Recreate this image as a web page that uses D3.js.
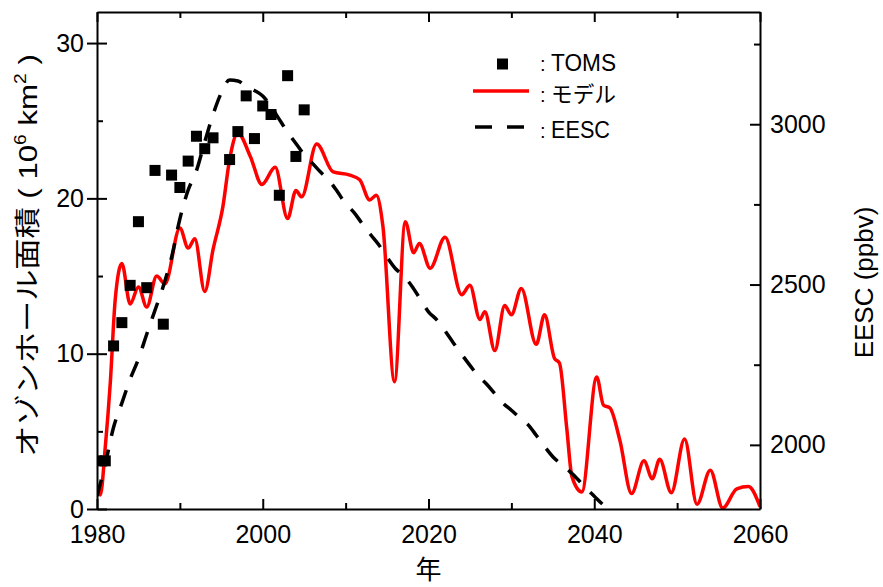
<!DOCTYPE html>
<html>
<head>
<meta charset="utf-8">
<script src="https://cdn.jsdelivr.net/npm/d3@7"></script>
<style>
  body { margin: 0; background: #fff; }
  text { font-family: "Liberation Sans", Arial, sans-serif; }
  .jp { font-family: "Noto Sans CJK JP", sans-serif; }
</style>
</head>
<body>
<div class="chart"></div>
<script>
// TOMS observed ozone hole area (10^6 km2)
const tomsYears = [1980, 1981, 1982, 1983, 1984, 1985, 1986, 1987, 1988, 1989, 1990, 1991, 1992, 1993, 1994,
  1996, 1997, 1998, 1999, 2000, 2001, 2002, 2003, 2004, 2005];
const tomsArea = [3.1, 3.1, 10.5, 12.0, 14.4, 18.5, 14.25, 21.8, 11.9, 21.5, 20.7, 22.4, 24.0, 23.2, 23.9,
  22.5, 24.3, 26.6, 23.85, 25.95, 25.4, 20.2, 27.9, 22.7, 25.7];

// model (red line), read at turning points
const modelYears = [1980, 1980.4, 1981, 1981.6, 1982.2, 1983, 1984, 1985, 1986, 1987.2, 1988.2, 1990, 1991, 1991.8,
  1993, 1994, 1995.2, 1996, 1997, 1998.5, 1999.9, 2001.5, 2003, 2004, 2004.7, 2006.5, 2008.5, 2010.5, 2011.7,
  2012.9, 2013.7, 2014.5, 2015.9, 2017.2, 2018.2, 2018.9, 2020.2, 2022, 2024, 2025, 2026.2, 2026.8, 2028,
  2029.2, 2030, 2031.2, 2033, 2034, 2035.2, 2035.8, 2036.7, 2037.3, 2038.5, 2040.3, 2041.1, 2041.9, 2043.1,
  2044.5, 2046, 2047, 2047.9, 2049.3, 2050.9, 2052.4, 2054, 2055.5, 2057.2, 2058.6, 2060];
const modelArea = [1.3, 0.9, 4.0, 8.1, 13.5, 15.8, 13.2, 14.3, 13.0, 15.0, 14.5, 18.1, 16.8, 17.4,
  14.0, 16.7, 19.5, 22.5, 24.2, 22.7, 20.9, 22.0, 18.7, 20.5, 20.1, 23.5, 21.7, 21.5, 21.2,
  19.9, 20.2, 18.2, 8.2, 18.5, 16.5, 17.1, 15.5, 17.5, 13.8, 14.4, 12.2, 12.7, 10.2,
  13.1, 12.5, 14.2, 10.6, 12.5, 9.7, 9.4, 5.1, 2.1, 1.1, 8.5, 6.7, 6.5, 4.4,
  1.0, 3.1, 1.95, 3.2, 1.05, 4.5, 0.3, 2.5, 0.06, 1.3, 1.45, 0.15];

// EESC (ppbv), right axis
const eescYears = d3.range(1980, 2044);
const eescValues = [1840, 1940, 2055, 2130, 2205, 2268, 2345, 2420, 2495, 2585, 2705, 2795, 2855, 2945, 3030,
  3098, 3138, 3135, 3118, 3105, 3088, 3055, 3015, 2975, 2940, 2905, 2878, 2850, 2825, 2790, 2752, 2725,
  2690, 2656, 2624, 2585, 2550, 2527, 2495, 2455, 2415, 2390, 2355, 2318, 2282, 2248, 2215, 2190, 2160,
  2130, 2108, 2085, 2063, 2030, 1995, 1963, 1940, 1918, 1893, 1865, 1840, 1815, 1795, 1770];

const xTicks = [1980, 2000, 2020, 2040, 2060];
const yTicks = [0, 10, 20, 30];
const y2Ticks = [2000, 2500, 3000];

let margin = { top: 12, right: 123, bottom: 78, left: 97 },
  width = 883 - margin.left - margin.right,
  height = 587 - margin.top - margin.bottom;

let svg = d3.select(".chart").append("svg")
  .attr("width", 883)
  .attr("height", 587)
  .append("g")
  .attr("transform", "translate(" + margin.left + "," + margin.top + ")");

const x = d3.scaleLinear().domain([1980, 2060]).range([0, width]);
const y = d3.scaleLinear().domain([0, 32]).range([height, 0]);
const y2 = d3.scaleLinear().domain([1800, 3350]).range([height, 0]);

svg.append("clipPath").attr("id", "plot")
  .append("rect").attr("width", width).attr("height", height);

let plot = svg.append("g").attr("clip-path", "url(#plot)");

// model
plot.append("path")
  .datum(modelYears.map((yr, i) => [yr, modelArea[i]]))
  .attr("fill", "none")
  .attr("stroke", "#ff0000")
  .attr("stroke-width", 3.5)
  .attr("stroke-linejoin", "round")
  .attr("d", d3.line().x(d => x(d[0])).y(d => y(d[1])).curve(d3.curveMonotoneX));

// EESC
plot.append("path")
  .datum(eescYears.map((yr, i) => [yr, eescValues[i]]))
  .attr("fill", "none")
  .attr("stroke", "#000")
  .attr("stroke-width", 3.5)
  .attr("stroke-dasharray", "17,14")
  .attr("d", d3.line().x(d => x(d[0])).y(d => y2(d[1])).curve(d3.curveMonotoneX));

// TOMS
plot.selectAll("rect.toms")
  .data(tomsYears.map((yr, i) => [yr, tomsArea[i]]))
  .join("rect")
  .attr("class", "toms")
  .attr("x", d => x(d[0]) - 5.5)
  .attr("y", d => y(d[1]) - 5.5)
  .attr("width", 11)
  .attr("height", 11)
  .attr("fill", "#000");

// axes
svg.append("g")
  .attr("transform", "translate(0," + height + ")")
  .call(d3.axisBottom(x).tickValues(d3.range(1980, 2061, 10)).tickSize(-10).tickSizeOuter(0)
    .tickFormat(d => xTicks.includes(d) ? d : ""))
  .call(g => g.selectAll(".tick line").attr("y2", d => xTicks.includes(d) ? -10 : -6))
  .call(g => g.selectAll(".tick text").attr("y", 16));

svg.append("g")
  .call(d3.axisTop(x).tickValues(d3.range(1980, 2061, 10)).tickSize(-10).tickSizeOuter(0).tickFormat(""))
  .call(g => g.selectAll(".tick line").attr("y2", d => xTicks.includes(d) ? 10 : 6));

svg.append("g")
  .call(d3.axisLeft(y).tickValues(d3.range(0, 31, 5)).tickSize(10).tickSizeOuter(0)
    .tickFormat(d => yTicks.includes(d) ? d : ""))
  .call(g => g.selectAll(".tick line")
    .attr("x1", d => yTicks.includes(d) ? 10 : 6)
    .attr("x2", d => yTicks.includes(d) ? -10 : 0))
  .call(g => g.selectAll(".tick text").attr("x", -13));

svg.append("g")
  .attr("transform", "translate(" + width + ",0)")
  .call(d3.axisRight(y2).tickValues(d3.range(2000, 3300, 250)).tickSize(-10).tickSizeOuter(0)
    .tickFormat(d => y2Ticks.includes(d) ? d : ""))
  .call(g => g.selectAll(".tick line").attr("x2", d => y2Ticks.includes(d) ? -10 : -6))
  .call(g => g.selectAll(".tick text").attr("x", 10));

svg.selectAll(".domain").attr("stroke-width", 2);
svg.selectAll(".tick line").attr("stroke-width", 2);
svg.selectAll(".tick text").attr("font-size", 25).attr("fill", "#000")
  .attr("font-family", "'Liberation Sans', Arial, sans-serif");

// axis titles
svg.append("text")
  .attr("class", "jp")
  .attr("x", x(2020)).attr("y", height + 70)
  .attr("text-anchor", "middle")
  .attr("font-size", 26)
  .text("年");

let yt = svg.append("g")
  .attr("transform", "translate(" + (-60) + "," + (height / 2 - 5) + ") rotate(-90) scale(1.2,1)")
  .append("text")
  .attr("text-anchor", "middle")
  .attr("font-size", 26)
  .attr("xml:space", "preserve");
yt.append("tspan").attr("class", "jp").text("オゾンホール面積");
yt.append("tspan").text(" ( 10");
yt.append("tspan").attr("font-size", 16).attr("dy", -11).text("6");
yt.append("tspan").attr("dy", 11).text(" km");
yt.append("tspan").attr("font-size", 16).attr("dy", -11).text("2");
yt.append("tspan").attr("dy", 11).text(" )");

svg.append("text")
  .attr("transform", "translate(" + (width + 113) + "," + (height / 2 + 22) + ") rotate(-90)")
  .attr("text-anchor", "middle")
  .attr("font-size", 26)
  .text("EESC (ppbv)");

// legend
let lg = svg.append("g").attr("transform", "translate(" + (-margin.left) + "," + (-margin.top) + ")");
lg.append("rect").attr("x", 497).attr("y", 58.5).attr("width", 11).attr("height", 11).attr("fill", "#000");
lg.append("line").attr("x1", 473).attr("x2", 529).attr("y1", 91).attr("y2", 91)
  .attr("stroke", "#ff0000").attr("stroke-width", 3.5);
lg.append("line").attr("x1", 475).attr("x2", 524).attr("y1", 127).attr("y2", 127)
  .attr("stroke", "#000").attr("stroke-width", 3.5).attr("stroke-dasharray", "17,15");

const legendRows = [
  { label: "TOMS", y: 71, size: 24, len: 65, jp: false },
  { label: "モデル", y: 102, size: 22, len: 65, jp: true },
  { label: "EESC", y: 138, size: 24, len: 59, jp: false }
];
legendRows.forEach(r => {
  lg.append("text").attr("x", 540).attr("y", r.y).attr("font-size", 20).text(":");
  lg.append("text")
    .attr("class", r.jp ? "jp" : null)
    .attr("x", 551).attr("y", r.y)
    .attr("font-size", r.size)
    .attr("textLength", r.len)
    .attr("lengthAdjust", "spacingAndGlyphs")
    .text(r.label);
});
</script>
</body>
</html>
